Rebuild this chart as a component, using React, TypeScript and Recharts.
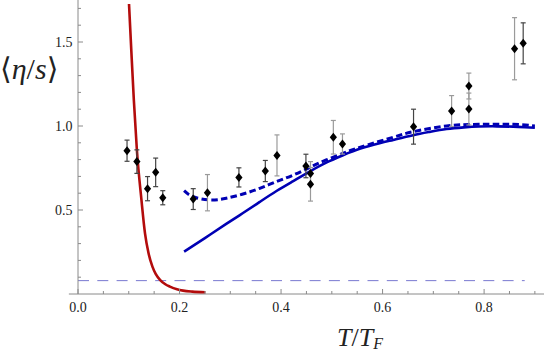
import {
  ComposedChart,
  Line,
  Scatter,
  ErrorBar,
  XAxis,
  YAxis,
  ReferenceLine,
} from 'recharts';

// theory curves (T/T_F, <eta/s>)
const redT = [0.1005, 0.105, 0.11, 0.116, 0.125, 0.132, 0.139, 0.1466, 0.153, 0.162, 0.172, 0.181, 0.195, 0.207, 0.225, 0.251];
const redEta = [1.726, 1.45, 1.155, 0.857, 0.56, 0.361, 0.242, 0.163, 0.12, 0.083, 0.058, 0.044, 0.028, 0.02, 0.014, 0.01];

const solidT = [0.209, 0.25, 0.292, 0.325, 0.358, 0.391, 0.424, 0.457, 0.489, 0.522, 0.555, 0.594, 0.621, 0.66, 0.693, 0.726, 0.76, 0.79, 0.825, 0.857, 0.88, 0.9];
const solidEta = [0.252, 0.333, 0.417, 0.482, 0.548, 0.613, 0.672, 0.73, 0.782, 0.826, 0.864, 0.897, 0.917, 0.945, 0.965, 0.982, 0.992, 0.997, 0.998, 0.996, 0.993, 0.99];

const dashT = [0.209, 0.227, 0.26, 0.292, 0.325, 0.358, 0.391, 0.424, 0.457, 0.489, 0.522, 0.555, 0.621, 0.66, 0.726, 0.79, 0.857, 0.9];
const dashEta = [0.615, 0.579, 0.56, 0.57, 0.595, 0.629, 0.669, 0.708, 0.754, 0.798, 0.837, 0.873, 0.933, 0.966, 1.0, 1.01, 1.01, 1.0];

// measured points, dark error bars
const darkT = [0.0966, 0.116, 0.137, 0.153, 0.167, 0.227, 0.317, 0.369, 0.449, 0.661, 0.877];
const darkEta = [0.853, 0.788, 0.627, 0.724, 0.573, 0.565, 0.694, 0.732, 0.762, 0.996, 1.492];
const darkErr = [0.063, 0.07, 0.072, 0.085, 0.042, 0.062, 0.057, 0.063, 0.07, 0.104, 0.122];

// measured points, light error bars
const grayT = [0.255, 0.392, 0.458, 0.458, 0.503, 0.521, 0.736, 0.77, 0.77, 0.86];
const grayEta = [0.603, 0.825, 0.718, 0.653, 0.933, 0.893, 1.089, 1.238, 1.101, 1.46];
const grayErr = [0.108, 0.122, 0.07, 0.1, 0.1, 0.06, 0.092, 0.077, 0.095, 0.185];

const kssBound = 0.0796;

const xTicks = [0, 0.05, 0.1, 0.15, 0.2, 0.25, 0.3, 0.35, 0.4, 0.45, 0.5, 0.55, 0.6, 0.65, 0.7, 0.75, 0.8, 0.85, 0.9];
const xLabels = ['0.0', '0.2', '0.4', '0.6', '0.8'];
const yTicks = [0.1, 0.2, 0.3, 0.4, 0.5, 0.6, 0.7, 0.8, 0.9, 1.0, 1.1, 1.2, 1.3, 1.4, 1.5, 1.6, 1.7];
const yLabels = ['0.5', '1.0', '1.5'];

const zip = (xs: number[], ys: number[]) => xs.map((x, i) => ({ x, y: ys[i] }));
const zipErr = (xs: number[], ys: number[], es: number[]) =>
  xs.map((x, i) => ({ x, y: ys[i], err: es[i] }));

const axisColor = '#8a8a8a';
const serif = "'Times New Roman', 'Liberation Serif', Tinos, 'DejaVu Serif', 'Noto Serif', Times, serif";

const XTick = ({ x, y, payload }: any) => {
  const label = Number(payload.value).toFixed(1);
  const major = xLabels.includes(label) && Math.abs(payload.value * 5 - Math.round(payload.value * 5)) < 1e-6;
  return (
    <g>
      <line x1={x} x2={x} y1={y} y2={y - (major ? 5 : 3)} stroke={axisColor} />
      {major && (
        <text x={x} y={y + 18} textAnchor="middle" fontSize={14} style={{ fontFamily: serif }} fill="#222">
          {label}
        </text>
      )}
    </g>
  );
};

const YTick = ({ x, y, payload }: any) => {
  const label = Number(payload.value).toFixed(1);
  const major = yLabels.includes(label);
  return (
    <g>
      <line x1={x} x2={x + (major ? 5 : 3)} y1={y} y2={y} stroke={axisColor} />
      {major && (
        <text x={x - 5.5} y={y + 4.7} textAnchor="end" fontSize={14} style={{ fontFamily: serif }} fill="#222">
          {label}
        </text>
      )}
    </g>
  );
};

const Diamond = ({ cx, cy }: any) => (
  <polygon
    points={`${cx},${cy - 4.5} ${cx + 3.6},${cy} ${cx},${cy + 4.5} ${cx - 3.6},${cy}`}
    fill="#000"
  />
);

export default function App() {
  return (
    <div style={{ position: 'absolute', left: 0, top: 0, width: 545, height: 354, background: '#fff', overflow: 'hidden' }}>
      <ComposedChart width={545} height={354} margin={{ top: 0, right: 1, bottom: 0, left: 0 }}>
        <XAxis
          type="number"
          dataKey="x"
          domain={[0, 0.918]}
          ticks={xTicks}
          interval={0}
          allowDataOverflow
          axisLine={false}
          tickLine={false}
          tickSize={0}
          tickMargin={0}
          tick={<XTick />}
          height={60}
        />
        <YAxis
          type="number"
          dataKey="y"
          domain={[0, 1.75]}
          ticks={yTicks}
          interval={0}
          allowDataOverflow
          axisLine={{ stroke: axisColor }}
          tickLine={false}
          tickSize={0}
          tickMargin={0}
          tick={<YTick />}
          width={78}
        />
        <ReferenceLine
          segment={[{ x: -0.018, y: 0 }, { x: 0.918, y: 0 }]}
          stroke={axisColor}
          ifOverflow="visible"
        />
        <ReferenceLine
          segment={[{ x: 0, y: kssBound }, { x: 0.88, y: kssBound }]}
          stroke="#7878d0"
          strokeDasharray="11 8.3"
          ifOverflow="visible"
        />
        <Line data={zip(redT, redEta)} dataKey="y" type="monotone" stroke="#b30c0c" strokeWidth={2.6} dot={false} isAnimationActive={false} />
        <Line data={zip(solidT, solidEta)} dataKey="y" type="natural" stroke="#0000b4" strokeWidth={2.6} dot={false} isAnimationActive={false} />
        <Line data={zip(dashT, dashEta)} dataKey="y" type="natural" stroke="#0000b4" strokeWidth={3} strokeDasharray="6.5 3.3" dot={false} isAnimationActive={false} />
        <Scatter data={zipErr(grayT, grayEta, grayErr)} dataKey="y" shape={<Diamond />} isAnimationActive={false}>
          <ErrorBar dataKey="err" direction="y" width={2.5} stroke="#9a9a9a" strokeWidth={1.2} />
        </Scatter>
        <Scatter data={zipErr(darkT, darkEta, darkErr)} dataKey="y" shape={<Diamond />} isAnimationActive={false}>
          <ErrorBar dataKey="err" direction="y" width={2.5} stroke="#444" strokeWidth={1.2} />
        </Scatter>
      </ComposedChart>
      <div style={{ position: 'absolute', left: 0, top: 50, fontFamily: serif, fontSize: 30, lineHeight: '38px', color: '#222', whiteSpace: 'nowrap' }}>
        ⟨<i>η</i>/<i>s</i>⟩
      </div>
      <div style={{ position: 'absolute', left: 337, top: 326, fontFamily: serif, fontSize: 26, lineHeight: '24px', height: 24, color: '#222', whiteSpace: 'nowrap' }}>
        <i>T</i>/<i>T</i>
        <span style={{ fontSize: 16, lineHeight: '14px', fontStyle: 'italic', position: 'relative', top: 3 }}>F</span>
      </div>
    </div>
  );
}
